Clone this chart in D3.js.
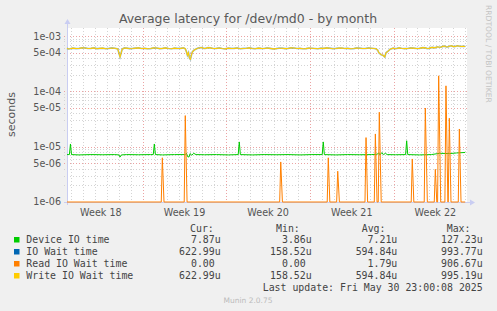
<!DOCTYPE html>
<html>
<head>
<meta charset="utf-8">
<script src="https://cdn.jsdelivr.net/npm/d3@7/dist/d3.min.js"></script>
<style>
  body { margin: 0; background: #f0f0f0; }
  svg { display: block; }
</style>
</head>
<body>
<div id="chart"></div>
<script>
// munin "diskstats latency" month graph for /dev/md0
// times are days from the start of the graph, values in microseconds
var graphStart = Date.UTC(2025, 3, 27, 16, 0);
var graphDays = 33.48;

var deviceIO = [
  [0, 7.2], [0.2, 7.2], [0.29, 11.2], [0.38, 7.2], [1.0, 7.1], [2.0, 7.2], [3.0, 7.15],
  [4.0, 7.2], [4.35, 7.1], [4.44, 6.5], [4.55, 7.1], [5.0, 7.2], [6.0, 7.15], [7.0, 7.2],
  [7.22, 7.2], [7.31, 11.2], [7.4, 7.2], [8.0, 7.1], [9.0, 7.2], [9.9, 7.2], [10.0, 7.6],
  [10.1, 6.6], [10.21, 6.5], [10.3, 7.5], [10.45, 7.0], [10.6, 7.6], [10.8, 7.2], [11.5, 7.15],
  [12.5, 7.2], [13.5, 7.1], [14.33, 7.2], [14.42, 12.2], [14.51, 7.2], [15.5, 7.1], [16.5, 7.2],
  [17.5, 7.15], [18.5, 7.2], [19.5, 7.1], [20.5, 7.2], [21.36, 7.2], [21.45, 12.2], [21.54, 7.2],
  [22.5, 7.1], [23.5, 7.2], [24.5, 7.15], [25.5, 7.2], [25.95, 7.3], [26.1, 7.7], [26.2, 7.1],
  [26.35, 7.8], [26.5, 7.2], [26.65, 7.6], [26.8, 7.2], [27.5, 7.15], [28.34, 7.2], [28.43, 12.8],
  [28.52, 7.2], [29.5, 7.1], [30.5, 7.2], [31.2, 7.6], [32.0, 7.5], [32.6, 7.7], [33.33, 7.87]
];

var writeWait = [
  [0, 600], [0.12, 585], [0.25, 590], [0.5, 605], [0.75, 595], [1.0, 598], [1.25, 612], [1.5, 610],
  [1.75, 596], [2.0, 600], [2.25, 612], [2.5, 592], [2.75, 600], [3.0, 606], [3.25, 590], [3.5, 598],
  [3.75, 610], [4.0, 602], [4.25, 585], [4.44, 420], [4.62, 580], [4.8, 610], [5.0, 605], [5.25, 592],
  [5.5, 598], [5.75, 606], [6.0, 612], [6.25, 596], [6.5, 600], [6.75, 590], [7.0, 595], [7.25, 612],
  [7.5, 608], [7.75, 594], [8.0, 600], [8.25, 612], [8.5, 596], [8.75, 590], [9.0, 606], [9.25, 598],
  [9.5, 600], [9.75, 612], [9.9, 590], [10.0, 520], [10.08, 450], [10.17, 500], [10.25, 400],
  [10.33, 380], [10.42, 460], [10.5, 520], [10.65, 560], [10.85, 590], [11.0, 610], [11.3, 620],
  [11.45, 598], [11.6, 600], [11.8, 618], [12.0, 612], [12.25, 596], [12.5, 600], [12.75, 610],
  [13.0, 596], [13.25, 588], [13.5, 605], [13.75, 598], [14.0, 600], [14.25, 610], [14.5, 590],
  [14.75, 598], [15.0, 603], [15.25, 612], [15.5, 598], [15.75, 590], [16.0, 606], [16.25, 600],
  [16.5, 596], [16.75, 610], [17.0, 600], [17.25, 588], [17.5, 592], [17.75, 604], [18.0, 604],
  [18.25, 594], [18.5, 598], [18.75, 612], [19.0, 608], [19.25, 596], [19.5, 600], [19.75, 590],
  [20.0, 594], [20.25, 606], [20.5, 602], [20.75, 596], [21.0, 590], [21.25, 604], [21.5, 600],
  [21.75, 612], [22.0, 604], [22.25, 592], [22.5, 598], [22.75, 606], [23.0, 608], [23.25, 596],
  [23.5, 600], [23.75, 590], [24.0, 595], [24.25, 610], [24.5, 604], [24.75, 596], [25.0, 598],
  [25.25, 610], [25.5, 602], [25.7, 596], [25.85, 590], [26.0, 560], [26.1, 500], [26.3, 460],
  [26.45, 450], [26.6, 420], [26.7, 500], [26.9, 540], [27.05, 580], [27.3, 605], [27.45, 592],
  [27.6, 598], [27.8, 612], [28.0, 602], [28.25, 594], [28.5, 596], [28.75, 610], [29.0, 605],
  [29.25, 596], [29.5, 600], [29.75, 618], [30.0, 612], [30.15, 596], [30.3, 600], [30.45, 618],
  [30.6, 625], [30.8, 612], [31.0, 640], [31.15, 628], [31.3, 630], [31.45, 652], [31.6, 660],
  [31.75, 636], [31.9, 640], [32.05, 662], [32.2, 665], [32.35, 645], [32.5, 650], [32.65, 668],
  [32.8, 660], [32.95, 648], [33.1, 655], [33.33, 650]
];
// reads are almost always zero, so total IO wait sits right under the write line
var ioWait = writeWait;

var readWait = [
  [0, 0], [7.89, 0], [7.98, 6.3], [8.12, 0], [9.81, 0], [9.90, 36.5], [10.05, 0],
  [17.80, 0], [17.89, 5.3], [18.03, 0], [21.78, 0], [21.87, 6.3], [22.0, 0],
  [22.57, 0], [22.66, 3.6], [22.8, 0], [24.94, 0], [25.03, 14.6], [25.16, 0],
  [25.72, 0], [25.81, 17], [25.95, 0], [26.05, 0], [26.14, 42], [26.3, 0],
  [28.81, 0], [28.90, 6.0], [29.03, 0], [29.90, 0], [29.99, 50], [30.16, 0],
  [30.74, 0], [30.83, 3.9], [30.95, 0], [31.02, 0], [31.11, 191], [31.28, 0],
  [31.63, 0], [31.72, 126], [31.88, 0], [31.91, 0], [32.00, 32.7], [32.14, 0],
  [32.75, 0], [32.84, 20.9], [32.98, 0], [33.33, 0]
];

var yTickValues = [1e-6, 5e-6, 1e-5, 5e-5, 1e-4, 5e-4, 1e-3];
var yTickLabels = ["1e-06", "5e-06", "1e-05", "5e-05", "1e-04", "5e-04", "1e-03"];

var seriesNames = ["Device IO time", "IO Wait time", "Read IO Wait time", "Write IO Wait time"];
var seriesColors = ["#00cc00", "#0066b3", "#ff8000", "#ffcc00"];
var curValues = ["7.87u", "622.99u", "0.00 ", "622.99u"];
var minValues = ["3.86u", "158.52u", "0.00 ", "158.52u"];
var avgValues = ["7.21u", "594.84u", "1.79u", "594.84u"];
var maxValues = ["127.23u", "993.77u", "906.67u", "995.19u"];
var lastUpdate = "Last update: Fri May 30 23:00:08 2025";

var width = 497, height = 311;
var plotLeft = 67, plotRight = 467, plotTop = 28, plotBottom = 202;
var dayMs = 864e5;

var svg = d3.select("#chart").append("svg")
  .attr("width", width)
  .attr("height", height)
  .style("font-family", "'DejaVu Sans', sans-serif");

svg.append("rect").attr("width", width).attr("height", height).attr("fill", "#f0f0f0");
svg.append("rect")
  .attr("x", plotLeft).attr("y", plotTop)
  .attr("width", plotRight - plotLeft).attr("height", plotBottom - plotTop)
  .attr("fill", "#ffffff");

var x = d3.scaleUtc()
  .domain([new Date(graphStart), new Date(graphStart + graphDays * dayMs)])
  .range([plotLeft, plotRight]);
var y = d3.scaleLog()
  .domain([1e-6, 1.4e-3])
  .range([plotBottom, plotTop]);

function toDate(d) { return new Date(graphStart + d * dayMs); }

// grid: minor first, major (red) on top
var grid = svg.append("g").attr("shape-rendering", "crispEdges");
var days = d3.utcDay.range(x.domain()[0], x.domain()[1]);
var weeks = d3.utcSunday.range(x.domain()[0], x.domain()[1]);
var yAll = y.ticks();
var isMajor = function(v) {
  var m = Math.round(v / Math.pow(10, Math.floor(Math.log10(v) + 1e-9)));
  return m === 1 || m === 5;
};

grid.selectAll(".vmin").data(days).enter().append("line")
  .attr("x1", function(d) { return Math.round(x(d)) + 0.5; })
  .attr("x2", function(d) { return Math.round(x(d)) + 0.5; })
  .attr("y1", plotTop).attr("y2", plotBottom + 3)
  .attr("stroke", "#d4d4d4").attr("stroke-dasharray", "1,2");
grid.selectAll(".hmin").data(yAll.filter(function(v) { return !isMajor(v); })).enter().append("line")
  .attr("x1", plotLeft - 3).attr("x2", plotRight)
  .attr("y1", function(d) { return Math.round(y(d)) + 0.5; })
  .attr("y2", function(d) { return Math.round(y(d)) + 0.5; })
  .attr("stroke", "#d4d4d4").attr("stroke-dasharray", "1,2");
grid.selectAll(".vmaj").data(weeks).enter().append("line")
  .attr("x1", function(d) { return Math.round(x(d)) + 0.5; })
  .attr("x2", function(d) { return Math.round(x(d)) + 0.5; })
  .attr("y1", plotTop).attr("y2", plotBottom + 3)
  .attr("stroke", "#eba3a3").attr("stroke-dasharray", "1,2");
grid.selectAll(".hmaj").data(yTickValues).enter().append("line")
  .attr("x1", plotLeft - 3).attr("x2", plotRight)
  .attr("y1", function(d) { return Math.round(y(d)) + 0.5; })
  .attr("y2", function(d) { return Math.round(y(d)) + 0.5; })
  .attr("stroke", "#eba3a3").attr("stroke-dasharray", "1,2");

// axes with arrows
var axisColor = "#c9cdf2";
svg.append("line").attr("x1", plotLeft + 0.5).attr("x2", plotLeft + 0.5).attr("y1", plotBottom + 3).attr("y2", plotTop - 5)
  .attr("stroke", axisColor);
svg.append("path").attr("d", "M" + (plotLeft - 2.5) + "," + (plotTop - 4) + "L" + (plotLeft + 0.5) + "," + (plotTop - 9) + "L" + (plotLeft + 3.5) + "," + (plotTop - 4) + "Z")
  .attr("fill", axisColor);
svg.append("line").attr("x1", plotLeft - 3).attr("x2", plotRight + 4).attr("y1", plotBottom + 0.5).attr("y2", plotBottom + 0.5)
  .attr("stroke", axisColor);
svg.append("path").attr("d", "M" + (plotRight + 3) + "," + (plotBottom - 2.5) + "L" + (plotRight + 8) + "," + (plotBottom + 0.5) + "L" + (plotRight + 3) + "," + (plotBottom + 3.5) + "Z")
  .attr("fill", axisColor);

// series, drawn in rrd order
var line = d3.line()
  .x(function(d) { return x(toDate(d[0])); })
  .y(function(d) { return y(Math.max(d[1] * 1e-6, 1e-6)); });

var widths = [1, 1.7, 1, 1.1];
var plot = svg.append("g");
[deviceIO, ioWait, readWait, writeWait].forEach(function(s, i) {
  plot.append("path")
    .attr("d", line(s))
    .attr("fill", "none")
    .attr("stroke", seriesColors[i])
    .attr("stroke-opacity", i === 1 ? 0.45 : 1)
    .attr("stroke-width", widths[i]);
});

// y labels
svg.selectAll(".ylab").data(yTickValues).enter().append("text")
  .attr("x", plotLeft - 6)
  .attr("y", function(d) { return y(d); })
  .attr("dy", "0.36em")
  .attr("text-anchor", "end")
  .attr("font-size", "9.6px")
  .attr("fill", "#555")
  .text(function(d, i) { return yTickLabels[i]; });

// week labels centered in the week
svg.selectAll(".xlab").data(d3.utcSunday.range(d3.utcSunday.floor(x.domain()[0]), x.domain()[1])).enter().append("text")
  .attr("x", function(d) { return x(d3.utcHour.offset(d, 84)); })
  .attr("y", 215.5)
  .attr("text-anchor", "middle")
  .attr("font-size", "9.6px")
  .attr("fill", "#555")
  .text(function(d) { return "Week " + d3.utcFormat("%V")(d3.utcHour.offset(d, 84)); });

svg.append("text")
  .attr("x", 248).attr("y", 23)
  .attr("text-anchor", "middle")
  .attr("font-size", "12.5px")
  .attr("fill", "#595959")
  .text("Average latency for /dev/md0 - by month");

svg.append("text")
  .attr("transform", "translate(14.5,114.5) rotate(-90)")
  .attr("text-anchor", "middle")
  .attr("font-size", "11px")
  .attr("fill", "#555")
  .text("seconds");

svg.append("text")
  .attr("transform", "translate(486,5) rotate(90)")
  .attr("font-size", "7.6px")
  .attr("fill", "#c4c4c4")
  .text("RRDTOOL / TOBI OETIKER");

// legend
var legend = svg.append("g")
  .style("font-family", "'DejaVu Sans Mono', monospace")
  .attr("font-size", "9.9px")
  .attr("fill", "#444")
  .style("white-space", "pre");

var headX = [190, 276, 361.7, 446.7];
["Cur:", "Min:", "Avg:", "Max:"].forEach(function(h, i) {
  legend.append("text").attr("x", headX[i]).attr("y", 231.6).text(h);
});

var valX = [220.7, 311.7, 397.3, 482.7];
var cols = [curValues, minValues, avgValues, maxValues];
seriesNames.forEach(function(name, i) {
  var yy = 243.3 + i * 12;
  legend.append("rect")
    .attr("x", 14).attr("y", yy - 6.3)
    .attr("width", 5.5).attr("height", 5.5)
    .attr("fill", seriesColors[i]);
  legend.append("text").attr("x", 26.3).attr("y", yy).text(name);
  cols.forEach(function(col, c) {
    legend.append("text")
      .attr("x", valX[c]).attr("y", yy)
      .attr("text-anchor", "end")
      .attr("xml:space", "preserve")
      .text(col[i]);
  });
});

legend.append("text")
  .attr("x", 482.7).attr("y", 291.3)
  .attr("text-anchor", "end")
  .text(lastUpdate);

svg.append("text")
  .attr("x", 248).attr("y", 303)
  .attr("text-anchor", "middle")
  .attr("font-size", "7.5px")
  .attr("fill", "#bbb")
  .text("Munin 2.0.75");
</script>
</body>
</html>
